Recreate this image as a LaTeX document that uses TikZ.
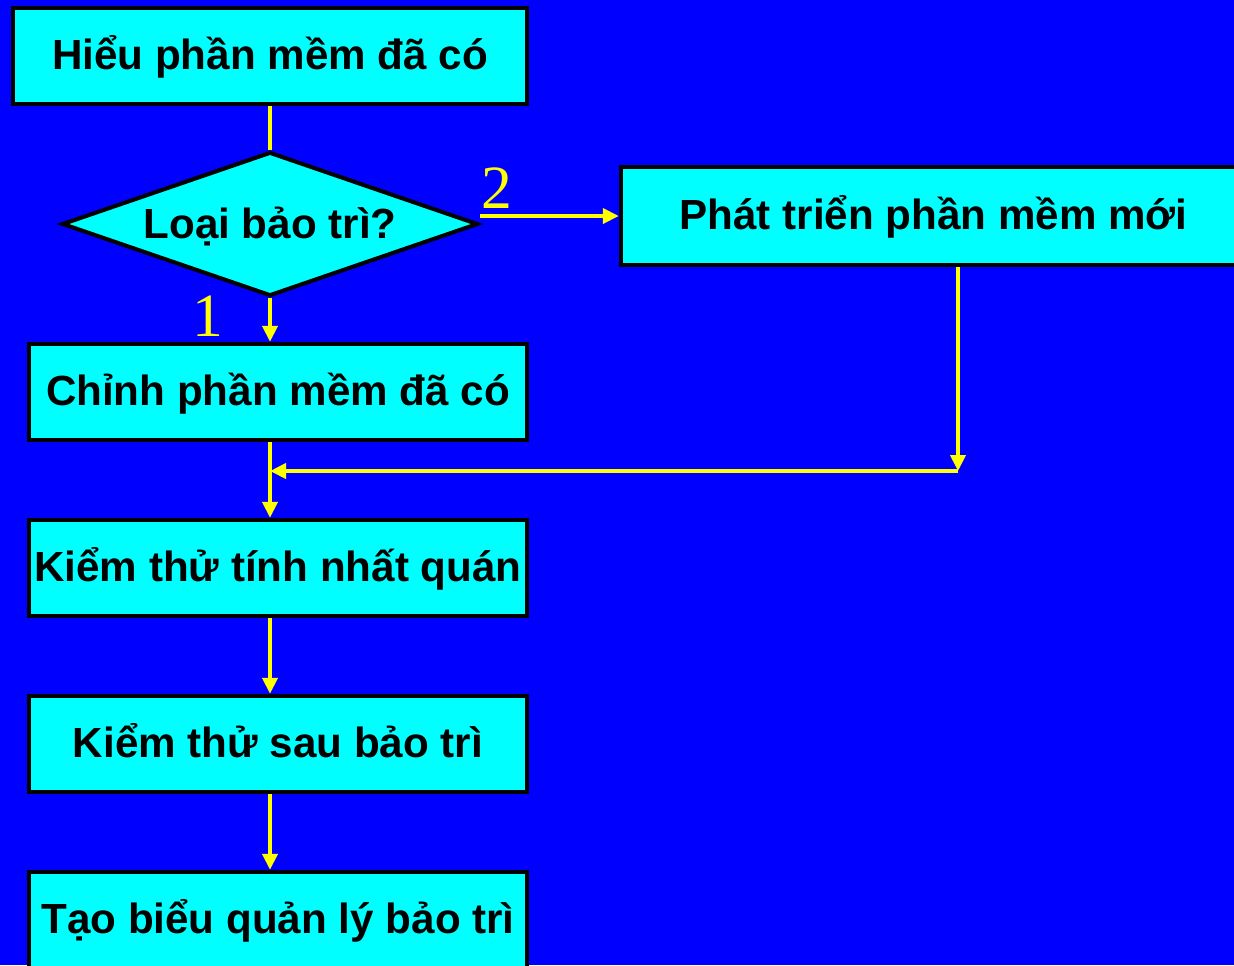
\documentclass[tikz,border=0pt]{standalone}
\usepackage{fontspec}
\setmainfont{Liberation Sans}
\newfontfamily\numfont{Liberation Serif}
\usetikzlibrary{shapes.geometric,arrows.meta}
\definecolor{bgblue}{HTML}{0000FF}
\definecolor{boxcyan}{HTML}{00FFFF}
\definecolor{lineyellow}{HTML}{FFFF00}
\tikzset{
  txt/.style={font=\fontsize{24}{28}\selectfont\bfseries, text=black, text height=20.5pt, text depth=5pt},
  box/.style={txt, draw=black, fill=boxcyan, line width=2.5pt, rectangle, inner sep=0pt,
    minimum height=96*0.02cm},
  decision/.style={txt, text height=21.5pt, draw=black, fill=boxcyan, line width=2.3pt, diamond, aspect=2.9, inner sep=0pt,
    minimum width=416*0.02cm, minimum height=144*0.02cm},
  link/.style={draw=lineyellow, line width=2.2pt},
  arr/.style={link, -{Triangle[width=0.3cm,length=0.32cm]}},
  numlabel/.style={text=lineyellow, font=\fontsize{35}{40}\selectfont\numfont, inner sep=0pt}
}
\begin{document}
\begin{tikzpicture}[x=0.02cm,y=-0.02cm]
\fill[bgblue] (0,0) rectangle (1234,965);
\useasboundingbox (0,0) rectangle (1234,965);
\clip (0,0) rectangle (1234,965);
\node[box, minimum width=514*0.02cm] (b1) at (270,56) {Hiểu phần mềm đã có};
\node[decision] (dec) at (270,224) {Loại bảo trì?};
\node[box, minimum width=625*0.02cm, minimum height=98*0.02cm] (rb) at (933.5,216) {Phát triển phần mềm mới};
\node[box, minimum width=498*0.02cm] (b2) at (278,392) {Chỉnh phần mềm đã có};
\node[box, minimum width=498*0.02cm] (b3) at (278,568) {Kiểm thử tính nhất quán};
\node[box, minimum width=498*0.02cm] (b4) at (278,744) {Kiểm thử sau bảo trì};
\node[box, minimum width=498*0.02cm] (b5) at (278,920) {Tạo biểu quản lý bảo trì};
\coordinate (j) at (958,471);
\coordinate (m) at (270,471);
\node[numlabel] (n2) at (497,188) {2};
\node[numlabel] (n1) at (208,316) {1};
\draw[link] (b1.south -| m) -- (dec.north);
\draw[arr] (dec.east |- rb.west) -- (rb.west);
\draw[arr] (dec.south) -- (dec.south |- b2.north);
\draw[arr] (rb.south -| j) -- (j);
\draw[arr] (j) -- (m);
\draw[arr] (b2.south -| m) -- (b3.north -| m);
\draw[arr] (b3.south -| m) -- (b4.north -| m);
\draw[arr] (b4.south -| m) -- (b5.north -| m);
\end{tikzpicture}
\end{document}
